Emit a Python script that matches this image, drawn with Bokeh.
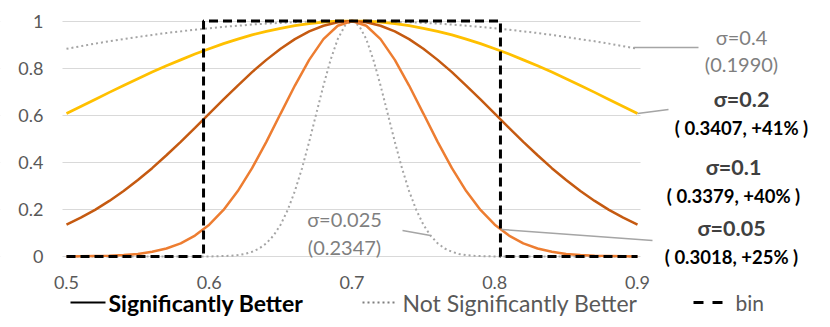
from bokeh.plotting import figure
from bokeh.models import Label, Arrow, Range1d, FixedTicker, NumeralTickFormatter, BoxAnnotation
from bokeh.embed import file_html
from bokeh.resources import INLINE

# ---------------- data ----------------
x = [0.50, 0.51, 0.52, 0.53, 0.54, 0.55, 0.56, 0.57, 0.58, 0.59,
     0.60, 0.61, 0.62, 0.63, 0.64, 0.65, 0.66, 0.67, 0.68, 0.69,
     0.70, 0.71, 0.72, 0.73, 0.74, 0.75, 0.76, 0.77, 0.78, 0.79,
     0.80, 0.81, 0.82, 0.83, 0.84, 0.85, 0.86, 0.87, 0.88, 0.89, 0.90]

sig_04 = [0.882, 0.893, 0.904, 0.914, 0.923, 0.932, 0.941, 0.949, 0.956, 0.963,
          0.969, 0.975, 0.980, 0.985, 0.989, 0.992, 0.995, 0.997, 0.999, 1.000,
          1.000, 1.000, 0.999, 0.997, 0.995, 0.992, 0.989, 0.985, 0.980, 0.975,
          0.969, 0.963, 0.956, 0.949, 0.941, 0.932, 0.923, 0.914, 0.904, 0.893, 0.882]

sig_02 = [0.607, 0.637, 0.667, 0.697, 0.726, 0.755, 0.783, 0.810, 0.835, 0.860,
          0.882, 0.904, 0.923, 0.941, 0.956, 0.969, 0.980, 0.989, 0.995, 0.999,
          1.000, 0.999, 0.995, 0.989, 0.980, 0.969, 0.956, 0.941, 0.923, 0.904,
          0.882, 0.860, 0.835, 0.810, 0.783, 0.755, 0.726, 0.697, 0.667, 0.637, 0.607]

sig_01 = [0.135, 0.165, 0.198, 0.236, 0.278, 0.325, 0.375, 0.430, 0.487, 0.546,
          0.607, 0.667, 0.726, 0.783, 0.835, 0.882, 0.923, 0.956, 0.980, 0.995,
          1.000, 0.995, 0.980, 0.956, 0.923, 0.882, 0.835, 0.783, 0.726, 0.667,
          0.607, 0.546, 0.487, 0.430, 0.375, 0.325, 0.278, 0.236, 0.198, 0.165, 0.135]

sig_005 = [0.000, 0.001, 0.002, 0.003, 0.006, 0.011, 0.020, 0.034, 0.056, 0.089,
           0.135, 0.198, 0.278, 0.375, 0.487, 0.607, 0.726, 0.835, 0.923, 0.980,
           1.000, 0.980, 0.923, 0.835, 0.726, 0.607, 0.487, 0.375, 0.278, 0.198,
           0.135, 0.089, 0.056, 0.034, 0.020, 0.011, 0.006, 0.003, 0.002, 0.001, 0.000]

x_narrow = [0.50, 0.55,
            0.600, 0.605, 0.610, 0.615, 0.620, 0.625, 0.630, 0.635, 0.640, 0.645,
            0.650, 0.655, 0.660, 0.665, 0.670, 0.675, 0.680, 0.685, 0.690, 0.695,
            0.700, 0.705, 0.710, 0.715, 0.720, 0.725, 0.730, 0.735, 0.740, 0.745,
            0.750, 0.755, 0.760, 0.765, 0.770, 0.775, 0.780, 0.785, 0.790, 0.795,
            0.800, 0.85, 0.90]
sig_0025 = [0.000, 0.000,
            0.000, 0.001, 0.002, 0.003, 0.006, 0.011, 0.020, 0.034, 0.056, 0.089,
            0.135, 0.198, 0.278, 0.375, 0.487, 0.607, 0.726, 0.835, 0.923, 0.980,
            1.000, 0.980, 0.923, 0.835, 0.726, 0.607, 0.487, 0.375, 0.278, 0.198,
            0.135, 0.089, 0.056, 0.034, 0.020, 0.011, 0.006, 0.003, 0.002, 0.001,
            0.000, 0.000, 0.000]

bin_x = [0.50, 0.596, 0.596, 0.804, 0.804, 0.90]
bin_y = [0, 0, 1, 1, 0, 0]

x_ticks = [0.5, 0.6, 0.7, 0.8, 0.9]
y_ticks = [0, 0.2, 0.4, 0.6, 0.8, 1]

# ---------------- styles ----------------
FONT = "Lato"
GRAY_LINE = "#A5A5A5"
YELLOW = "#FFC000"
DARK_ORANGE = "#C55A11"
ORANGE = "#ED7D31"
TICK_COLOR = "#595959"

W, H = 830, 327
# chart area in page pixels: left 62, right 640, top 17, bottom 260
PX_X = 1427.5                      # pixels per x unit
PX_Y = 235.5                       # pixels per y unit
PLOT_LEFT, PLOT_RIGHT = 0.4972, 0.9021
PLOT_BOTTOM, PLOT_TOP = -0.017, 1.0149
X_START = PLOT_LEFT - 62 / PX_X
X_END = X_START + W / PX_X
Y_TOP = PLOT_TOP + 17 / PX_Y
Y_BOTTOM = Y_TOP - H / PX_Y

# frame covers the full canvas so that nothing outside the chart area is clipped
p = figure(width=W, height=H, output_backend="svg", toolbar_location=None,
           x_range=Range1d(X_START, X_END), y_range=Range1d(Y_BOTTOM, Y_TOP),
           min_border_left=0, min_border_right=0,
           min_border_top=0, min_border_bottom=0)
p.title.visible = False
p.outline_line_color = None
p.background_fill_color = "white"
p.border_fill_color = "white"

p.xgrid.grid_line_color = None
p.ygrid.grid_line_color = "#D9D9D9"
p.ygrid.grid_line_width = 1
p.ygrid.ticker = FixedTicker(ticks=y_ticks)

# hide grid lines outside the chart area
p.add_layout(BoxAnnotation(left=PLOT_RIGHT, fill_color="white", fill_alpha=1,
                           line_color=None, level="underlay"))
p.add_layout(BoxAnnotation(right=PLOT_LEFT, fill_color="white", fill_alpha=1,
                           line_color=None, level="underlay"))

for ax in (p.xaxis, p.yaxis):
    ax.axis_line_color = None
    ax.major_tick_line_color = None
    ax.minor_tick_line_color = None
    ax.major_label_text_font = FONT
    ax.major_label_text_font_size = "18px"
    ax.major_label_text_color = TICK_COLOR

p.xaxis.ticker = FixedTicker(ticks=x_ticks)
p.yaxis.ticker = FixedTicker(ticks=y_ticks)
p.xaxis.formatter = NumeralTickFormatter(format="0.0")
p.yaxis.formatter = NumeralTickFormatter(format="0.[0]")
p.xaxis.fixed_location = PLOT_BOTTOM
p.yaxis.fixed_location = PLOT_LEFT
p.xaxis.major_label_standoff = 9
p.yaxis.major_label_standoff = 13

# ---------------- series ----------------
p.line(x, sig_04, line_color=GRAY_LINE, line_width=2, line_dash="2 3")
p.line(x_narrow, sig_0025, line_color=GRAY_LINE, line_width=2, line_dash="2 3")
p.line(x, sig_02, line_color=YELLOW, line_width=2.75)
p.line(x, sig_01, line_color=DARK_ORANGE, line_width=2.5)
p.line(x, sig_005, line_color=ORANGE, line_width=2.5)
p.line(bin_x, bin_y, line_color="black", line_width=3, line_dash="9 5")

# ---------------- annotations (screen units, relative to frame = canvas) ----------------
def sx(px):
    return px

def sy(py):
    return H - py

def lbl(text, cx, cy, color, bold=False, size="19px", align="center"):
    p.add_layout(Label(x=sx(cx), y=sy(cy), x_units="screen", y_units="screen",
                       text=text, text_font=FONT,
                       text_font_size=size, text_color=color,
                       text_font_style="bold" if bold else "normal",
                       text_align=align, text_baseline="middle"))

def seg(x0, y0, x1, y1, color=GRAY_LINE, width=1.5, dash="solid"):
    p.add_layout(Arrow(end=None, start_units="screen", end_units="screen",
                       x_start=sx(x0), y_start=sy(y0),
                       x_end=sx(x1), y_end=sy(y1), line_color=color,
                       line_width=width, line_dash=dash))

ANN_GRAY = "#7F7F7F"
ANN_DARK = "#404040"
SIG_SIZE = "21.5px"
VAL_SIZE = "18.5px"

lbl("σ=0.4", 741, 36, ANN_GRAY, size="20px")
lbl("(0.1990)", 741, 63, ANN_GRAY, size="20px")
lbl("σ=0.2", 741, 98, ANN_DARK, bold=True, size=SIG_SIZE)
lbl("( 0.3407, +41% )", 741, 127, "black", bold=True, size=VAL_SIZE)
lbl("σ=0.1", 733, 166, ANN_DARK, bold=True, size=SIG_SIZE)
lbl("( 0.3379, +40% )", 733, 195, "black", bold=True, size=VAL_SIZE)
lbl("σ=0.05", 731, 227, ANN_DARK, bold=True, size=SIG_SIZE)
lbl("( 0.3018, +25% )", 731, 256, "black", bold=True, size=VAL_SIZE)
lbl("σ=0.025", 344, 218, ANN_GRAY, size="20px")
lbl("(0.2347)", 344, 246, ANN_GRAY, size="20px")

seg(633, 47, 698, 47)
seg(637, 113, 668, 109)
seg(501, 229, 652, 240)
seg(402, 230, 430, 235)

# legend row
LEG_SIZE = "23px"
seg(70, 302, 105, 302, color="black", width=2)
lbl("Significantly Better", 108, 302, "black", bold=True, size=LEG_SIZE, align="left")
seg(362, 302, 397, 302, color=ANN_GRAY, width=2, dash="2 3")
lbl("Not Significantly Better", 402, 302, TICK_COLOR, size=LEG_SIZE, align="left")
seg(693, 302, 725, 302, color="black", width=3, dash="10 9")
lbl("bin", 735, 302, TICK_COLOR, size="21px", align="left")

open("out.html", "w").write(file_html(p, INLINE))
